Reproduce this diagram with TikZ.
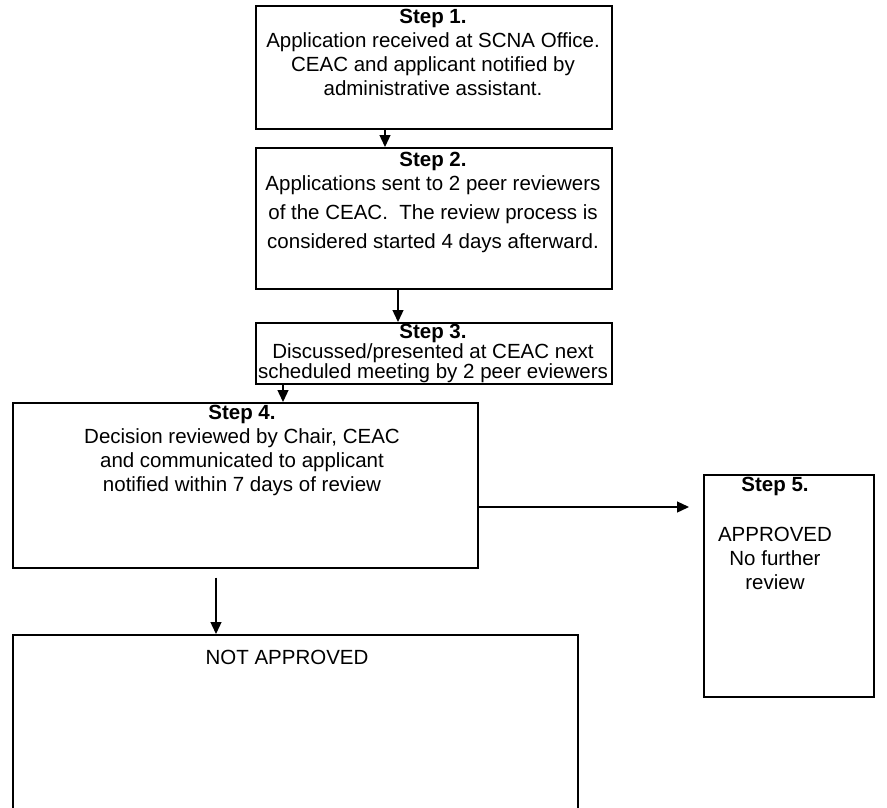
\documentclass[tikz,border=0pt]{standalone}
\usepackage{fontspec}
\setmainfont{Liberation Sans}
\usetikzlibrary{arrows.meta}
\begin{document}
\begin{tikzpicture}[x=1pt,y=-1pt,
  box/.style={draw, line width=1.5pt, inner sep=0pt, anchor=north west},
  txt/.style={align=center, inner sep=0pt, anchor=north, font=\fontsize{20.5}{24}\selectfont},
  arr/.style={line width=1.3pt, -{Triangle[length=12pt,width=11pt]}}]
\clip (0,0) rectangle (887,807);
% boxes
\node[box, minimum width=356pt, minimum height=123pt] (b1) at (255,5) {};
\node[box, minimum width=356pt, minimum height=141pt] (b2) at (255,147) {};
\node[box, minimum width=356pt, minimum height=61pt] (b3) at (255,322) {};
\node[box, minimum width=465pt, minimum height=165pt] (b4) at (12,402) {};
\node[box, minimum width=170pt, minimum height=222pt] (b5) at (703,474) {};
\node[box, minimum width=565pt, minimum height=200pt] (b6) at (12,634) {};
% texts
\node[txt] (t1) at (433,8.5) {\textbf{Step 1.}\\Application received at SCNA Office.\\CEAC and applicant notified by\\administrative assistant.};
\node[txt] (t2) at (433,151.5) {\textbf{Step 2.}\\Applications sent to 2 peer reviewers\\[5pt]of the CEAC.\ \ The review process is\\[5pt]considered started 4 days afterward.};
\node[txt, font=\fontsize{20.5}{19}\selectfont] (t3) at (433,324) {\textbf{Step 3.}\\Discussed/presented at CEAC next\\scheduled meeting by 2 peer eviewers};
\node[txt] (t4) at (242,404.5) {\textbf{Step 4.}\\Decision reviewed by Chair, CEAC\\and communicated to applicant\\notified within 7 days of review};
\node[txt] (t5) at (775,476.5) {\textbf{Step 5.}\\[26pt]APPROVED\\No further\\review};
\node[txt] (t6) at (287,649.5) {NOT APPROVED};
% connector helpers
\coordinate (x12) at (385,0);
\coordinate (x23) at (398,0);
\coordinate (x34) at (283,0);
\coordinate (x46) at (216,0);
\coordinate (y45) at (0,507);
% connectors
\draw[arr] (b1.south -| x12) -- (b2.north -| x12);
\draw[arr] (b2.south -| x23) -- (b3.north -| x23);
\draw[arr] (b3.south -| x34) -- (b4.north -| x34);
\draw[arr, shorten >=14pt] (b4.east |- y45) -- (b5.west |- y45);
\draw[arr, shorten <=9pt] (b4.south -| x46) -- (b6.north -| x46);
\end{tikzpicture}
\end{document}
